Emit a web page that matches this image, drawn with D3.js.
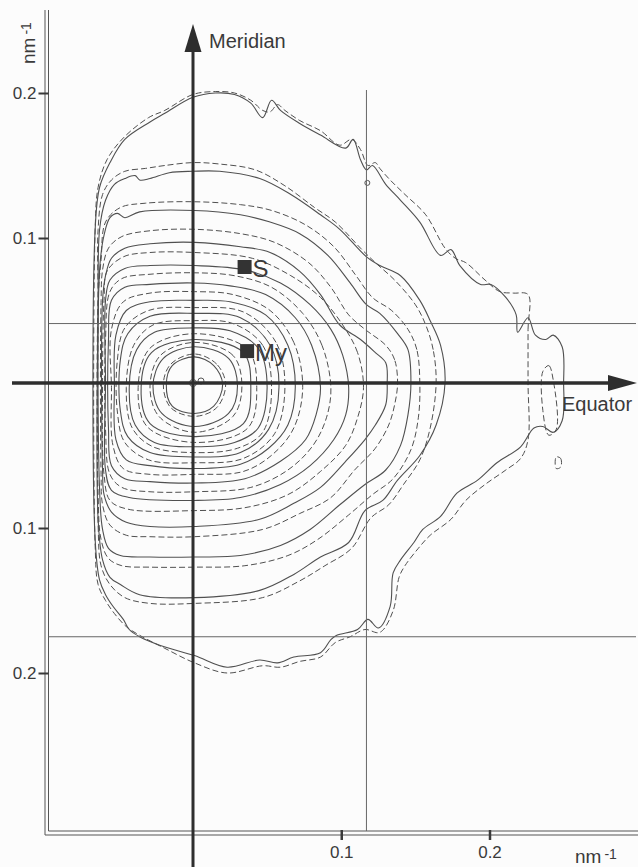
<!DOCTYPE html>
<html>
<head>
<meta charset="utf-8">
<script src="https://cdn.jsdelivr.net/npm/d3@7"></script>
<style>
  body { margin:0; background:#fcfcfc; }
  svg { display:block; }
  text { font-family:"Liberation Sans", Arial, Helvetica, sans-serif; fill:#3a3a3a; }
</style>
</head>
<body>
<svg id="svg1"></svg>
<script>
// contour lines, points in nm-1 (x = equator, y = meridian)
var solid1 = [[.020,-.001],[.014,.012],[.001,.018],[-.014,.012],[-.018,-.001],[-.014,-.016],[.001,-.021],[.014,-.016]];
var solid2 = [[.030,-.002],[.024,.017],[.001,.025],[-.020,.017],[-.027,-.002],[-.021,-.021],[.001,-.030],[.024,-.021]];
var solid3 = [[.039,-.003],[.034,.021],[.001,.030],[-.028,.021],[-.035,-.003],[-.029,-.028],[.001,-.037],[.034,-.028]];
var solid4 = [[.050,-.003],[.044,.024],[.025,.036],[.001,.038],[-.026,.035],[-.038,.023],[-.043,-.003],[-.039,-.029],[-.026,-.041],[.001,-.044],[.028,-.041],[.044,-.031]];
var solid5 = [[.058,-.003],[.052,.026],[.032,.045],[.001,.048],[-.029,.046],[-.044,.034],[-.049,.016],[-.049,-.019],[-.044,-.037],[-.029,-.048],[.001,-.051],[.032,-.048],[.051,-.032]];
var solid6 = [[.069,-.003],[.064,.026],[.049,.047],[.025,.056],[.001,.057],[-.029,.056],[-.045,.050],[-.052,.033],[-.053,-.003],[-.052,-.039],[-.045,-.053],[-.029,-.057],[.001,-.059],[.032,-.056],[.051,-.045],[.064,-.029]];
var solid7 = [[.086,-.003],[.080,.026],[.069,.045],[.049,.061],[.025,.067],[.001,.069],[-.029,.068],[-.046,.066],[-.055,.057],[-.057,.030],[-.057,-.032],[-.055,-.057],[-.046,-.066],[-.029,-.068],[.001,-.069],[.035,-.066],[.059,-.054],[.076,-.039],[.083,-.022]];
var solid8 = [[.105,-.003],[.101,.019],[.093,.037],[.079,.054],[.059,.069],[.035,.078],[.001,.081],[-.029,.081],[-.046,.079],[-.056,.071],[-.059,.057],[-.059,0],[-.059,-.060],[-.055,-.074],[-.043,-.079],[.001,-.081],[.032,-.079],[.059,-.070],[.079,-.057],[.095,-.039],[.103,-.022]];
var solid9 = [[.131,0],[.130,.014],[.123,.021],[.113,.030],[.099,.040],[.086,.061],[.072,.077],[.052,.090],[.032,.094],[.001,.097],[-.029,.096],[-.046,.093],[-.055,.086],[-.059,.074],[-.061,.057],[-.061,-.060],[-.060,-.077],[-.055,-.089],[-.045,-.096],[-.029,-.099],[.001,-.099],[.045,-.094],[.068,-.083],[.086,-.072],[.103,-.054],[.116,-.039],[.123,-.029],[.130,-.015]];
var solid10 = [[.147,0],[.145,.023],[.138,.034],[.126,.048],[.117,.054],[.106,.069],[.091,.088],[.072,.103],[.052,.111],[.032,.116],[.001,.119],[-.036,.118],[-.046,.114],[-.051,.117],[-.056,.114],[-.060,.102],[-.063,.078],[-.063,-.074],[-.061,-.101],[-.057,-.114],[-.049,-.119],[-.029,-.120],[.001,-.120],[.032,-.119],[.059,-.112],[.079,-.101],[.099,-.084],[.116,-.070],[.130,-.060],[.140,-.043],[.145,-.022]];
var solid11 = [[.170,0],[.167,.026],[.160,.043],[.153,.057],[.140,.074],[.126,.081],[.117,.087],[.099,.106],[.086,.116],[.066,.130],[.045,.141],[.018,.146],[0,.146],[-.016,.145],[-.029,.141],[-.036,.140],[-.039,.143],[-.046,.141],[-.053,.137],[-.059,.126],[-.063,.106],[-.064,.057],[-.064,-.094],[-.061,-.122],[-.056,-.134],[-.049,-.139],[-.036,-.146],[.001,-.148],[.045,-.143],[.068,-.132],[.086,-.120],[.105,-.110],[.116,-.088],[.128,-.081],[.138,-.067],[.153,-.050],[.164,-.029]];
var solid12 = [[.250,0],[.249,.025],[.243,.033],[.238,.030],[.231,.033],[.226,.045],[.219,.035],[.218,.047],[.211,.059],[.201,.068],[.194,.068],[.180,.081],[.174,.092],[.167,.088],[.153,.111],[.140,.126],[.130,.137],[.121,.150],[.117,.147],[.113,.154],[.108,.168],[.103,.162],[.086,.171],[.072,.179],[.059,.188],[.053,.195],[.047,.183],[.039,.193],[.028,.199],[.015,.200],[0,.197],[-.019,.186],[-.029,.180],[-.046,.168],[-.056,.152],[-.063,.135],[-.066,.106],[-.066,-.108],[-.063,-.136],[-.059,-.146],[-.054,-.154],[-.047,-.163],[-.043,-.170],[-.036,-.175],[-.022,-.181],[.001,-.188],[.023,-.196],[.045,-.191],[.057,-.193],[.068,-.189],[.086,-.186],[.093,-.177],[.097,-.174],[.111,-.170],[.118,-.163],[.125,-.169],[.133,-.154],[.135,-.131],[.140,-.122],[.149,-.110],[.155,-.101],[.167,-.092],[.178,-.076],[.192,-.067],[.205,-.055],[.221,-.044],[.230,-.031],[.236,-.030],[.243,-.034],[.249,-.026]];

var dashed1 = [[.022,-.001],[.016,.013],[.001,.020],[-.015,.013],[-.020,-.001],[-.015,-.017],[.001,-.023],[.016,-.017]];
var dashed2 = [[.033,-.002],[.027,.019],[.001,.028],[-.022,.019],[-.029,-.002],[-.023,-.023],[.001,-.034],[.027,-.023]];
var dashed3 = [[.043,-.003],[.037,.023],[.001,.034],[-.029,.024],[-.037,-.003],[-.031,-.030],[.001,-.041],[.037,-.031]];
var dashed4 = [[.053,-.003],[.047,.026],[.027,.041],[.001,.043],[-.027,.040],[-.040,.026],[-.045,-.003],[-.041,-.031],[-.027,-.044],[.001,-.048],[.030,-.045],[.047,-.034]];
var dashed5 = [[.062,-.003],[.056,.028],[.034,.049],[.001,.052],[-.030,.050],[-.046,.038],[-.051,.016],[-.051,-.020],[-.046,-.041],[-.030,-.053],[.001,-.055],[.034,-.052],[.055,-.035]];
var dashed6 = [[.074,-.003],[.068,.028],[.052,.050],[.027,.061],[.001,.063],[-.029,.062],[-.047,.056],[-.055,.037],[-.055,-.003],[-.054,-.043],[-.047,-.059],[-.029,-.063],[.001,-.063],[.034,-.061],[.054,-.049],[.068,-.031]];
var dashed7 = [[.093,-.003],[.087,.026],[.074,.048],[.053,.066],[.028,.074],[.001,.076],[-.029,.075],[-.048,.072],[-.056,.063],[-.059,.030],[-.059,-.032],[-.056,-.063],[-.048,-.072],[-.029,-.075],[.001,-.075],[.039,-.072],[.064,-.060],[.081,-.043],[.090,-.024]];
var dashed8 = [[.115,-.003],[.111,.021],[.101,.040],[.086,.059],[.066,.074],[.040,.086],[.001,.090],[-.029,.090],[-.047,.087],[-.058,.077],[-.060,.057],[-.061,0],[-.060,-.063],[-.056,-.081],[-.044,-.087],[.001,-.088],[.035,-.086],[.064,-.077],[.086,-.061],[.103,-.043],[.111,-.024]];
var dashed9 = [[.138,0],[.136,.016],[.130,.026],[.116,.037],[.105,.047],[.093,.066],[.078,.083],[.055,.097],[.032,.103],[.001,.106],[-.029,.105],[-.048,.101],[-.057,.093],[-.061,.078],[-.062,.057],[-.062,-.063],[-.061,-.084],[-.056,-.098],[-.045,-.105],[-.029,-.106],[.001,-.106],[.047,-.101],[.072,-.090],[.093,-.079],[.109,-.060],[.123,-.045],[.132,-.029],[.136,-.015]];
var dashed10 = [[.153,0],[.151,.023],[.145,.037],[.134,.050],[.121,.059],[.110,.074],[.095,.094],[.076,.109],[.053,.119],[.032,.123],[.001,.125],[-.032,.124],[-.049,.121],[-.059,.111],[-.062,.085],[-.064,.057],[-.064,-.077],[-.062,-.108],[-.057,-.121],[-.048,-.126],[-.029,-.127],[.001,-.127],[.035,-.126],[.064,-.119],[.084,-.108],[.105,-.091],[.121,-.077],[.135,-.066],[.147,-.046],[.152,-.024]];
var dashed11 = [[.164,0],[.162,.023],[.157,.040],[.150,.054],[.136,.071],[.123,.083],[.113,.093],[.096,.111],[.082,.121],[.062,.136],[.042,.147],[.018,.151],[0,.152],[-.019,.150],[-.032,.148],[-.046,.146],[-.055,.140],[-.061,.130],[-.064,.106],[-.064,.057],[-.064,-.098],[-.062,-.126],[-.056,-.139],[-.046,-.148],[-.029,-.152],[.001,-.152],[.047,-.148],[.071,-.137],[.089,-.126],[.107,-.114],[.120,-.093],[.132,-.084],[.142,-.070],[.153,-.053],[.160,-.031]];
var dashed12 = [[.226,0],[.226,.037],[.226,.061],[.216,.062],[.207,.063],[.197,.071],[.184,.083],[.177,.086],[.170,.093],[.157,.116],[.143,.130],[.133,.140],[.126,.148],[.123,.152],[.118,.150],[.113,.161],[.107,.168],[.099,.164],[.086,.174],[.072,.181],[.062,.188],[.057,.192],[.052,.187],[.047,.188],[.039,.195],[.028,.200],[.015,.201],[0,.199],[-.019,.188],[-.030,.183],[-.047,.169],[-.058,.154],[-.064,.135],[-.066,.106],[-.066,-.112],[-.064,-.139],[-.059,-.150],[-.053,-.159],[-.045,-.168],[-.036,-.174],[-.019,-.183],[.001,-.193],[.023,-.200],[.047,-.195],[.059,-.196],[.072,-.192],[.086,-.189],[.096,-.179],[.106,-.175],[.116,-.170],[.126,-.172],[.135,-.157],[.139,-.134],[.143,-.126],[.152,-.114],[.160,-.105],[.174,-.094],[.184,-.081],[.197,-.070],[.211,-.060],[.221,-.052],[.226,-.039]];
var dashedLoopA = [[.236,.008],[.240,.012],[.243,.002],[.245,-.032],[.240,-.036],[.236,-.019]];
var dashedLoopB = [[.245,-.051],[.248,-.052],[.248,-.058],[.245,-.059]];

var solidRings = [solid1,solid2,solid3,solid4,solid5,solid6,solid7,solid8,solid9,solid10,solid11,solid12];
var dashedRings = [dashed1,dashed2,dashed3,dashed4,dashed5,dashed6,dashed7,dashed8,dashed9,dashed10,dashed11,dashed12,dashedLoopA,dashedLoopB];

// small circles (centre, r in px)
var smallCircles = [[0,0,3.5],[.0054,.0014,3],[.1176,.138,2.5]];

// reflections
var markerLabels = ['S','My'];
var markerX = [.0348,.0365];
var markerY = [.080,.022];

// thin reference lines
var layerLines = [.041,-.175];
var rowLines = [.117];

var xTicks = [0.1,0.2];
var yTicks = [0.2,0.1,-0.1,-0.2];

var W = 638, H = 867;

window.onload = function(){
  var svg1 = d3.select('#svg1').attr('width',W).attr('height',H);
  var x = d3.scaleLinear().domain([0,0.2]).range([193,489.5]);
  var y = d3.scaleLinear().domain([0,0.2]).range([383,93]);
  render(svg1,x,y);
};

function render(svg1,x,y){
  var ink = '#3a3a3a';
  var line = d3.line()
    .x(function(d){ return x(d[0]); })
    .y(function(d){ return y(d[1]); })
    .curve(d3.curveCatmullRomClosed.alpha(0.5));

  // frame (double line left and bottom)
  var fr = svg1.append('g').attr('stroke','#555').attr('stroke-width',1).attr('fill','none');
  fr.append('line').attr('x1',45).attr('x2',45).attr('y1',10).attr('y2',835);
  fr.append('line').attr('x1',48.5).attr('x2',48.5).attr('y1',10).attr('y2',831);
  fr.append('line').attr('x1',45).attr('x2',W).attr('y1',835).attr('y2',835);
  fr.append('line').attr('x1',48.5).attr('x2',W).attr('y1',831).attr('y2',831);

  // contours
  svg1.append('g').selectAll('path.s')
    .data(solidRings).enter().append('path')
    .attr('d',line).attr('fill','none')
    .attr('stroke','#505050').attr('stroke-width',1.1);
  svg1.append('g').selectAll('path.d')
    .data(dashedRings).enter().append('path')
    .attr('d',line).attr('fill','none')
    .attr('stroke','#505050').attr('stroke-width',1)
    .attr('stroke-dasharray','6,3');
  svg1.append('g').selectAll('circle')
    .data(smallCircles).enter().append('circle')
    .attr('cx',function(d){ return x(d[0]); })
    .attr('cy',function(d){ return y(d[1]); })
    .attr('r',function(d){ return d[2]; })
    .attr('fill','none').attr('stroke','#555').attr('stroke-width',1);

  // thin reference lines
  svg1.append('g').selectAll('line')
    .data(layerLines).enter().append('line')
    .attr('x1',48.5).attr('x2',636)
    .attr('y1',function(d){ return y(d); }).attr('y2',function(d){ return y(d); })
    .attr('stroke','#666').attr('stroke-width',1);
  svg1.append('g').selectAll('line')
    .data(rowLines).enter().append('line')
    .attr('x1',function(d){ return x(d); }).attr('x2',function(d){ return x(d); })
    .attr('y1',90).attr('y2',831)
    .attr('stroke','#666').attr('stroke-width',1);

  // axes with ticks
  var yAxis = d3.axisLeft(y).tickValues(yTicks).tickSize(10).tickPadding(2)
    .tickFormat(function(d){ return d3.format('.1f')(Math.abs(d)); });
  var ga = svg1.append('g').attr('transform','translate(48.5,0)').call(yAxis);
  ga.select('.domain').remove();
  ga.selectAll('.tick line').attr('stroke',ink).attr('stroke-width',2);
  ga.selectAll('.tick text').attr('font-size',17).attr('fill',ink)
    .attr('font-family','"Liberation Sans", Arial, sans-serif');

  var xAxis = d3.axisBottom(x).tickValues(xTicks).tickSize(10).tickPadding(6)
    .tickFormat(d3.format('.1f'));
  var gb = svg1.append('g').attr('transform','translate(0,830)').call(xAxis);
  gb.select('.domain').remove();
  gb.selectAll('.tick line').attr('stroke',ink).attr('stroke-width',2.5);
  gb.selectAll('.tick text').attr('font-size',17).attr('fill',ink)
    .attr('font-family','"Liberation Sans", Arial, sans-serif');

  // meridian & equator arrows
  svg1.append('line').attr('x1',x(0)).attr('x2',x(0)).attr('y1',H).attr('y2',48)
    .attr('stroke','#2e2e2e').attr('stroke-width',3);
  svg1.append('path')
    .attr('d','M'+x(0)+',24 L'+(x(0)-8.5)+',52 L'+(x(0)+8.5)+',52 Z')
    .attr('fill','#2e2e2e');
  svg1.append('line').attr('x1',12).attr('x2',612).attr('y1',y(0)).attr('y2',y(0))
    .attr('stroke','#2e2e2e').attr('stroke-width',3.5);
  svg1.append('path')
    .attr('d','M637,'+y(0)+' L608,'+(y(0)-8)+' L608,'+(y(0)+8)+' Z')
    .attr('fill','#2e2e2e');

  svg1.append('text').attr('x',209).attr('y',48).attr('font-size',20).text('Meridian');
  svg1.append('text').attr('x',562).attr('y',411).attr('font-size',20).text('Equator');

  // unit labels
  var u1 = svg1.append('text').attr('transform','translate(35,64) rotate(-90)').attr('font-size',19);
  u1.append('tspan').text('nm');
  u1.append('tspan').attr('font-size',14).attr('dx',3).attr('dy',-4).text('-1');
  var u2 = svg1.append('text').attr('x',575).attr('y',863).attr('font-size',19);
  u2.append('tspan').text('nm');
  u2.append('tspan').attr('font-size',14).attr('dx',3).attr('dy',-4).text('-1');

  // reflection markers
  var mk = svg1.append('g').selectAll('g')
    .data(markerLabels).enter().append('g');
  mk.append('rect')
    .attr('x',function(d,i){ return x(markerX[i])-7; })
    .attr('y',function(d,i){ return y(markerY[i])-7; })
    .attr('width',14).attr('height',14).attr('fill','#333');
  mk.append('text')
    .attr('x',function(d,i){ return x(markerX[i])+8; })
    .attr('y',function(d,i){ return y(markerY[i])+10; })
    .attr('font-size',24).text(function(d){ return d; });
}
</script>
</body>
</html>
